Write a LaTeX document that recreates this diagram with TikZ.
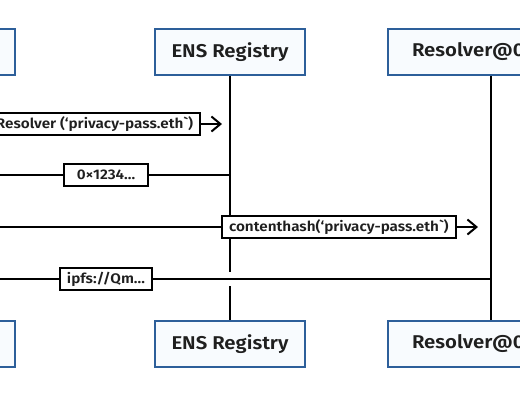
\documentclass[tikz,border=0pt]{standalone}
\usepackage{fontspec}
\setmainfont{Fira Sans SemiBold}[FakeStretch=1.1]
\usetikzlibrary{arrows.meta}

\definecolor{boxblue}{HTML}{2D5F9A}
\definecolor{boxfill}{HTML}{F8FBFE}

\tikzset{
  party/.style={draw=boxblue, fill=boxfill, line width=2.5pt, minimum width=150pt, minimum height=46pt,
    font=\fontsize{18.5}{22}\selectfont, text=black!88},
  life/.style={line width=2pt},
  msg/.style={line width=2pt, -{Straight Barb[length=9pt,width=15pt]}},
  reply/.style={line width=2pt},
  lbl/.style={draw, fill=white, line width=2pt, inner xsep=7pt, minimum height=22pt,
    font=\fontsize{13.9}{17}\selectfont, text=black!88}
}

\begin{document}
\begin{tikzpicture}[x=1pt,y=-1pt]
\useasboundingbox (0,0) rectangle (520,400);
\clip (0,0) rectangle (520,400);

% participants
\node[party] (clientT) at (-60,52) {};
\node[party] (ensT) at (230,52) {ENS Registry};
\node[party, minimum width=206pt, inner xsep=24pt] (resT) at (491,52) {\makebox[158pt][l]{Resolver@0x1234...}};

\node[party] (clientB) at (-60,344) {};
\node[party] (ensB) at (230,344) {ENS Registry};
\node[party, minimum width=206pt, inner xsep=24pt] (resB) at (491,344) {\makebox[158pt][l]{Resolver@0x1234...}};

% lifelines
\draw[life] (clientT) -- (clientB);
\draw[life] (ensT) -- (ensB);
\draw[life] (resT) -- (resB);

% messages
\draw[msg, shorten >=8pt] (clientT |- 0,124) -- (ensT |- 0,124);
\draw[reply] (ensT |- 0,175) -- (clientT |- 0,175);
\draw[msg, shorten >=13pt] (clientT |- 0,227) -- (resT |- 0,227);
\draw[reply, preaction={draw=white, line width=14pt, shorten <=3pt}] (resT |- 0,279) -- (clientT |- 0,279);

% labels
\node[lbl, anchor=east] (getres) at (201,124) {Resolver (‘privacy-pass.eth\textasciigrave)};
\node[lbl, minimum width=84pt] (addr) at (106,175) {0×1234...};
\node[lbl, anchor=west] (chash) at (221,227) {contenthash(‘privacy-pass.eth\textasciigrave)};
\node[lbl, minimum width=92pt] (ipfs) at (106,279) {ipfs://Qm...};
\end{tikzpicture}
\end{document}
